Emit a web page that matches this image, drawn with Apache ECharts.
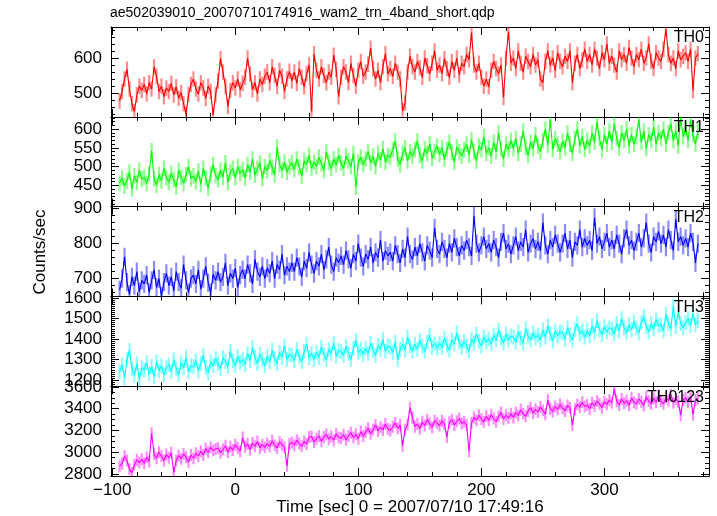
<!DOCTYPE html>
<html><head><meta charset="utf-8">
<script src="https://cdn.jsdelivr.net/npm/echarts@6/dist/echarts.min.js"></script>
<style>html,body{margin:0;padding:0;background:#fff}#c{width:717px;height:516px}</style>
</head><body><div id="c"></div>
<script>
// time bins (sec): start and width
const binStart = -94, binWidth = 2;

const th0 = [
478,505,540,568,512,470,448,495,520,508,
525,498,530,512,575,548,505,520,490,515,
505,528,495,518,486,502,470,440,496,525,
540,512,498,530,515,485,520,505,438,495,
535,598,560,520,462,508,530,515,540,510,
528,545,600,555,510,530,498,540,525,548,
560,530,575,550,520,565,548,505,540,562,
535,560,528,570,545,518,555,580,448,612,
565,540,575,550,530,560,545,608,568,490,
545,575,560,530,585,550,520,565,590,548,
560,582,628,570,540,565,530,575,612,555,
570,548,585,560,540,450,472,560,605,575,
560,590,572,545,600,578,555,585,620,565,
580,555,598,570,545,590,565,600,552,585,
575,610,595,672,580,560,585,545,520,540,
518,565,590,570,555,580,488,600,675,585,
600,570,620,585,560,605,590,575,610,580,
595,540,530,590,620,580,600,565,615,590,
575,605,590,620,530,585,610,570,595,625,
590,610,580,625,600,570,615,595,640,585,
605,580,560,620,595,610,585,630,600,575,
610,595,625,585,600,640,590,570,615,600,
590,625,682,610,585,600,570,620,595,605,
615,590,625,508,600,612];

const th1 = [
455,470,448,462,485,440,475,458,490,466,
472,455,480,542,468,450,478,462,495,470,
458,482,465,445,490,472,455,478,500,468,
475,460,488,452,495,470,442,480,505,476,
465,490,472,510,458,485,495,470,500,482,
492,470,505,485,520,478,495,510,468,500,
488,515,498,478,552,505,490,512,485,500,
510,492,520,498,475,515,505,530,495,512,
500,525,508,490,540,512,495,520,505,530,
510,495,528,515,500,535,445,512,525,505,
520,540,510,528,500,535,518,548,512,530,
525,545,568,520,505,535,550,515,540,528,
545,568,530,515,548,535,560,522,540,555,
532,550,520,545,565,538,512,552,540,528,
545,560,530,572,540,515,555,545,580,535,
550,528,565,540,590,548,520,560,545,570,
548,575,535,560,595,552,530,565,548,585,
555,540,570,600,558,625,545,575,560,540,
568,550,590,560,535,575,600,555,580,545,
570,555,590,565,620,575,545,585,560,595,
565,615,575,550,590,570,600,555,585,560,
580,625,565,595,548,585,570,605,560,590,
575,600,560,590,615,570,595,555,630,580,
600,570,625,585,560,595];

const th2 = [
668,700,762,690,655,705,680,720,662,695,
685,710,660,695,725,675,700,650,690,715,
680,705,665,720,690,672,740,695,660,700,
710,685,725,670,700,735,688,660,712,695,
720,690,705,745,680,715,700,730,675,710,
725,700,740,715,685,755,720,705,735,700,
730,715,750,700,740,725,770,710,735,720,
745,720,760,735,705,750,730,775,740,715,
750,735,770,725,755,790,740,720,760,745,
765,740,780,755,730,770,750,800,760,735,
770,755,790,745,775,760,810,750,780,765,
775,750,795,770,745,785,760,820,770,755,
790,765,800,775,750,795,780,760,845,785,
770,805,785,760,800,775,815,790,765,795,
780,810,790,765,880,800,775,795,820,785,
800,775,810,790,760,805,830,785,800,770,
795,820,780,805,790,840,775,800,815,785,
805,780,860,795,770,810,790,825,800,775,
800,830,785,810,760,805,795,840,790,815,
795,810,780,875,800,820,785,805,830,790,
810,785,825,800,770,815,840,795,810,780,
805,830,790,815,860,800,775,820,805,835,
800,825,790,840,810,780,870,805,820,795,
815,790,830,805,745,800];

const th3 = [
1240,1275,1210,1300,1345,1255,1225,1280,1205,1260,
1250,1285,1230,1265,1215,1290,1245,1270,1225,1260,
1275,1240,1300,1255,1225,1285,1260,1310,1240,1270,
1265,1295,1245,1280,1320,1260,1235,1290,1270,1305,
1280,1255,1310,1290,1265,1340,1295,1270,1315,1285,
1300,1275,1330,1295,1360,1310,1280,1325,1300,1270,
1315,1290,1345,1305,1280,1335,1310,1365,1300,1325,
1320,1295,1350,1315,1290,1340,1375,1310,1330,1300,
1335,1310,1360,1325,1300,1350,1330,1380,1315,1345,
1340,1320,1365,1330,1300,1355,1395,1335,1350,1325,
1355,1330,1380,1345,1320,1370,1350,1400,1340,1365,
1360,1335,1385,1300,1350,1375,1345,1410,1365,1340,
1375,1350,1395,1365,1340,1385,1420,1360,1380,1355,
1380,1360,1405,1370,1345,1395,1375,1430,1385,1360,
1390,1365,1340,1400,1380,1425,1390,1365,1410,1385,
1400,1375,1420,1395,1445,1405,1380,1425,1395,1415,
1410,1385,1435,1405,1380,1450,1415,1395,1430,1405,
1420,1395,1445,1410,1465,1425,1390,1440,1415,1435,
1430,1400,1455,1420,1395,1445,1475,1425,1440,1410,
1440,1415,1465,1430,1490,1445,1420,1460,1435,1455,
1450,1425,1475,1440,1500,1455,1430,1470,1445,1485,
1455,1430,1480,1510,1460,1435,1475,1450,1495,1465,
1470,1440,1520,1475,1450,1560,1460,1530,1475,1455,
1480,1500,1465,1525,1470,1490];

const th0123 = [
2870,2895,2965,2925,2845,2810,2885,2930,2905,2935,
2900,2955,2915,3175,2985,2945,3000,2965,2925,2980,
2950,2995,2815,2925,2970,2940,2985,2955,2910,2975,
2945,2990,2965,3010,2975,3035,3000,3045,3015,3030,
3040,2995,3025,3060,3000,3050,3020,3070,3040,3010,
3135,3050,3075,3025,3085,3055,3100,3040,3070,3045,
3080,3055,3105,3065,3040,3095,3070,3045,2875,3075,
3090,3065,3110,3080,3055,3100,3075,3140,3145,3095,
3125,3150,3100,3140,3165,3120,3145,3110,3170,3135,
3130,3160,3115,3150,3180,3135,3165,3125,3190,3150,
3185,3220,3170,3210,3250,3195,3230,3205,3260,3215,
3200,3235,3270,3220,3250,3060,3210,3255,3410,3320,
3235,3260,3215,3280,3245,3300,3265,3230,3290,3270,
3245,3290,3260,3140,3275,3300,3250,3285,3310,3265,
3280,3250,3010,3270,3320,3295,3340,3305,3280,3330,
3295,3345,3310,3280,3330,3365,3305,3340,3315,3355,
3320,3365,3340,3390,3355,3330,3380,3410,3360,3395,
3370,3415,3385,3350,3480,3400,3375,3420,3395,3440,
3405,3380,3430,3410,3250,3395,3440,3415,3460,3420,
3435,3400,3455,3425,3470,3445,3410,3465,3440,3480,
3455,3580,3470,3435,3490,3450,3475,3430,3500,3460,
3445,3490,3465,3430,3510,3470,3445,3495,3460,3520,
3470,3445,3500,3475,3530,3455,3490,3465,3340,3480,
3500,3460,3510,3345,3480,3495];

const panelNames = ['TH0', 'TH1', 'TH2', 'TH3', 'TH0123'];
const panelData = [th0, th1, th2, th3, th0123];
const errs = [22, 21, 26, 36, 55];
const yMin = [433, 393, 649, 1170, 2782];
const yMax = [688, 633, 906, 1608, 3607];
const yMajor = [[500, 600], [450, 500, 550, 600], [700, 800, 900], [1200, 1300, 1400, 1500, 1600], [2800, 3000, 3200, 3400, 3600]];
const yMinorStep = [20, 10, 20, 10, 50];
const xMajor = [-100, 0, 100, 200, 300];
const xMinorStep = 20;
const xMin = -101, xMax = 385;
const titleText = 'ae502039010_20070710174916_wam2_trn_4band_short.qdp';
const yTitle = 'Counts/sec';
const xTitle = 'Time [sec] 0 = 2007/07/10 17:49:16';

const colors = ['#ff0000', '#00ff00', '#0000ff', '#00ffff', '#ff00ff'];
const FONT = '"Liberation Sans", Arial, Helvetica, sans-serif';
const bounds = [27, 116.8, 206.6, 296.4, 386.2, 476];
const gridLeft = 111, gridRight = 8;

function stepTicks(lo, hi, step) {
  const out = [];
  for (let v = Math.ceil(lo / step) * step; v <= hi + 1e-9; v += step) out.push(v);
  return out;
}
const xMinor = stepTicks(xMin, xMax, xMinorStep);
const fmtX = v => v < 0 ? '\u2212' + Math.abs(v) : String(v);
const fmtY = v => String(v);

const grids = [], xAxes = [], yAxes = [], series = [], graphics = [];
const lineSt = { color: '#000', width: 1 };

for (let i = 0; i < 5; i++) {
  grids.push({ left: gridLeft, right: gridRight, top: bounds[i], height: bounds[i + 1] - bounds[i], containLabel: false });
  const xBase = { gridIndex: i, type: 'value', min: xMin, max: xMax, splitLine: { show: false } };
  xAxes.push(Object.assign({}, xBase, { position: 'bottom',
    axisLine: { show: true, onZero: false, lineStyle: lineSt },
    axisTick: { show: true, inside: true, length: 8, customValues: xMajor, lineStyle: lineSt },
    axisLabel: { show: i === 4, customValues: xMajor, formatter: fmtX, fontSize: 17, fontFamily: FONT, color: '#000', margin: 6 } }));
  xAxes.push(Object.assign({}, xBase, { position: 'top',
    axisLine: { show: true, onZero: false, lineStyle: lineSt },
    axisTick: { show: true, inside: true, length: 8, customValues: xMajor, lineStyle: lineSt },
    axisLabel: { show: false } }));
  xAxes.push(Object.assign({}, xBase, { position: 'bottom',
    axisLine: { show: false, onZero: false },
    axisTick: { show: true, inside: true, length: 4, customValues: xMinor, lineStyle: lineSt },
    axisLabel: { show: false } }));
  xAxes.push(Object.assign({}, xBase, { position: 'top',
    axisLine: { show: false, onZero: false },
    axisTick: { show: true, inside: true, length: 4, customValues: xMinor, lineStyle: lineSt },
    axisLabel: { show: false } }));

  const yMinor = stepTicks(yMin[i], yMax[i], yMinorStep[i]);
  const yBase = { gridIndex: i, type: 'value', min: yMin[i], max: yMax[i], splitLine: { show: false } };
  yAxes.push(Object.assign({}, yBase, { position: 'left',
    axisLine: { show: true, onZero: false, lineStyle: lineSt },
    axisTick: { show: true, inside: true, length: 8, customValues: yMajor[i], lineStyle: lineSt },
    axisLabel: { show: true, customValues: yMajor[i], formatter: fmtY, fontSize: 17, fontFamily: FONT, color: '#000', margin: 9 } }));
  yAxes.push(Object.assign({}, yBase, { position: 'right',
    axisLine: { show: true, onZero: false, lineStyle: lineSt },
    axisTick: { show: true, inside: true, length: 8, customValues: yMajor[i], lineStyle: lineSt },
    axisLabel: { show: false } }));
  yAxes.push(Object.assign({}, yBase, { position: 'left',
    axisLine: { show: false, onZero: false },
    axisTick: { show: true, inside: true, length: 4, customValues: yMinor, lineStyle: lineSt },
    axisLabel: { show: false } }));
  yAxes.push(Object.assign({}, yBase, { position: 'right',
    axisLine: { show: false, onZero: false },
    axisTick: { show: true, inside: true, length: 4, customValues: yMinor, lineStyle: lineSt },
    axisLabel: { show: false } }));

  const vals = panelData[i];
  const pts = vals.map((v, j) => [binStart + j * binWidth, v]);
  const errPts = vals.map((v, j) => [binStart + j * binWidth, v, errs[i]]);
  const col = colors[i];
  series.push({
    type: 'custom', xAxisIndex: i * 4, yAxisIndex: i * 4, data: errPts, clip: true, z: 2,
    encode: { x: 0, y: 1 },
    renderItem: (params, api) => {
      const x = api.value(0), y = api.value(1), e = api.value(2);
      const p1 = api.coord([x, y - e]), p2 = api.coord([x, y + e]);
      return { type: 'line', shape: { x1: p1[0], y1: p1[1], x2: p2[0], y2: p2[1] },
        style: { stroke: col, lineWidth: 2.2, opacity: 0.45 } };
    }
  });
  series.push({
    type: 'line', xAxisIndex: i * 4, yAxisIndex: i * 4, data: pts, symbol: 'none', clip: true, z: 3,
    lineStyle: { color: col, width: 1.1 }, itemStyle: { color: col }
  });
  graphics.push({ type: 'text', x: 704, y: bounds[i] + 11, z: 10,
    style: { text: panelNames[i], font: '16px ' + FONT, fill: '#000', textAlign: 'right', textVerticalAlign: 'middle' } });
}

graphics.push({ type: 'text', x: 110, y: 13, style: { text: titleText, font: '14px ' + FONT, fill: '#000', textAlign: 'left', textVerticalAlign: 'middle' } });
graphics.push({ type: 'text', x: 40, y: 252, rotation: Math.PI / 2, style: { text: yTitle, font: '17px ' + FONT, fill: '#000', textAlign: 'center', textVerticalAlign: 'middle' } });
graphics.push({ type: 'text', x: 410, y: 507, style: { text: xTitle, font: '17px ' + FONT, fill: '#000', textAlign: 'center', textVerticalAlign: 'middle' } });

const chart = echarts.init(document.getElementById('c'), null, { renderer: 'canvas' });
chart.setOption({
  animation: false,
  backgroundColor: '#fff',
  grid: grids, xAxis: xAxes, yAxis: yAxes, series: series, graphic: graphics
});
</script></body></html>
